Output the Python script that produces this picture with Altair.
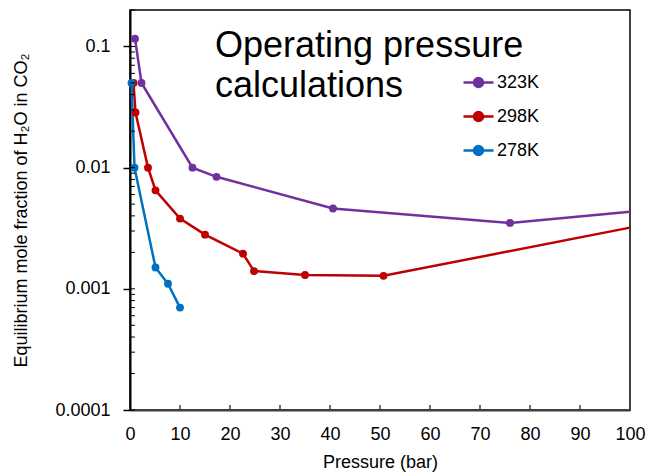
import altair as alt
import pandas as pd

# ---- data ----
series_names = ["323K", "298K", "278K"]
series_colors = ["#7030A0", "#C00000", "#0070C0"]

p_323 = [1.0, 2.3, 12.5, 17.3, 40.6, 76.0, 100.0]
y_323 = [0.116, 0.050, 0.0100, 0.0084, 0.0046, 0.0035, 0.00433]
m_323 = [True, True, True, True, True, True, False]

p_298 = [0.7, 1.1, 3.6, 5.1, 10.0, 15.0, 22.6, 24.8, 35.0, 50.7, 100.0]
y_298 = [0.050, 0.0285, 0.0100, 0.0065, 0.0038, 0.0028, 0.00195, 0.00140, 0.00130, 0.00128, 0.0032]
m_298 = [True, True, True, True, True, True, True, True, True, True, False]

p_278 = [0.3, 0.9, 5.1, 7.6, 10.0]
y_278 = [0.050, 0.0100, 0.0015, 0.0011, 0.0007]
m_278 = [True, True, True, True, True]

y_major = [0.0001, 0.001, 0.01, 0.1]
y_minor = [m * d for d in [0.0001, 0.001, 0.01] for m in range(2, 10)] + [0.2]
x_ticks = list(range(0, 101, 10))

title_lines = ["Operating pressure", "calculations"]
x_title = "Pressure (bar)"
y_title = "Equilibrium mole fraction of H\u2082O in CO\u2082"

rows = []
for name, ps, ys, ms in [("323K", p_323, y_323, m_323),
                         ("298K", p_298, y_298, m_298),
                         ("278K", p_278, y_278, m_278)]:
    for p, y, m in zip(ps, ys, ms):
        rows.append({"series": name, "P": p, "Y": y, "marker": m})
df = pd.DataFrame(rows)

FONT = "Liberation Sans"

xscale = alt.Scale(domain=[0, 100], nice=False)
yscale = alt.Scale(type="log", domain=[0.0001, 0.2], nice=False)
cscale = alt.Scale(domain=series_names, range=series_colors)

legend = alt.Legend(
    orient="none", legendX=332, legendY=56, title=None,
    symbolType="M-1,0L1,0M0.3,0A0.3,0.3 0 1,1 -0.3,0A0.3,0.3 0 1,1 0.3,0",
    symbolSize=900, symbolStrokeWidth=2.5, labelFontSize=18, labelFont=FONT,
    labelColor="#000000", rowPadding=8, labelOffset=2, padding=0,
)

x_main = alt.X("P:Q", scale=xscale, title=x_title,
               axis=alt.Axis(orient="bottom", values=x_ticks, tickSize=0, labelPadding=15,
                             labelFlush=False, domainColor="#404040", domainWidth=2,
                             labelFontSize=18, titleFontSize=18, labelFont=FONT,
                             titleFont=FONT, titleFontWeight="normal",
                             labelColor="#000000", titleColor="#000000",
                             titlePadding=10))
y_main = alt.Y("Y:Q", scale=yscale, title=y_title,
               axis=alt.Axis(orient="left", values=y_major, format="~g", tickSize=7,
                             tickColor="#000000", tickWidth=1.5, labelFlush=False,
                             labelPadding=13, domainColor="#000000",
                             domainWidth=2, labelFontSize=18, titleFontSize=18,
                             labelFont=FONT, titleFont=FONT,
                             titleFontWeight="normal", labelColor="#000000",
                             titleColor="#000000", titlePadding=24))

base = alt.Chart(df)

lines = base.mark_line(strokeWidth=2.5).encode(
    x=x_main, y=y_main,
    color=alt.Color("series:N", scale=cscale, legend=legend),
    order="P:Q",
)
points = base.transform_filter("datum.marker").mark_point(
    filled=True, size=62, opacity=1).encode(
    x="P:Q", y="Y:Q",
    color=alt.Color("series:N", scale=cscale, legend=legend),
)

# inner minor/major tick marks (Excel-style "inside" ticks)
ytick_df = pd.DataFrame({"v": y_minor + y_major})
xtick_df = pd.DataFrame({"v": x_ticks[1:]})
y_inner = alt.Chart(ytick_df).mark_rule(color="#000000", strokeWidth=1).encode(
    y="v:Q", x=alt.value(0), x2=alt.value(5))
x_inner = alt.Chart(xtick_df).mark_rule(color="#404040", strokeWidth=1.5).encode(
    x="v:Q", y=alt.value(400), y2=alt.value(395))

title_text = alt.Chart(pd.DataFrame({"t": [title_lines]})).mark_text(
    align="left", baseline="alphabetic", fontSize=36, font=FONT,
    lineHeight=40, color="#000000",
).encode(text="t:N", x=alt.value(85), y=alt.value(47))

chart = alt.layer(lines, points, y_inner, x_inner, title_text).properties(
    width=500, height=400,
    autosize=alt.AutoSizeParams(type="none"),
    padding={"left": 122, "top": 2, "right": 16, "bottom": 62},
).configure_view(stroke="#000000", strokeWidth=1.5).configure_axis(grid=False)

chart.save("out.html", embed_options={"renderer": "svg", "actions": False})
